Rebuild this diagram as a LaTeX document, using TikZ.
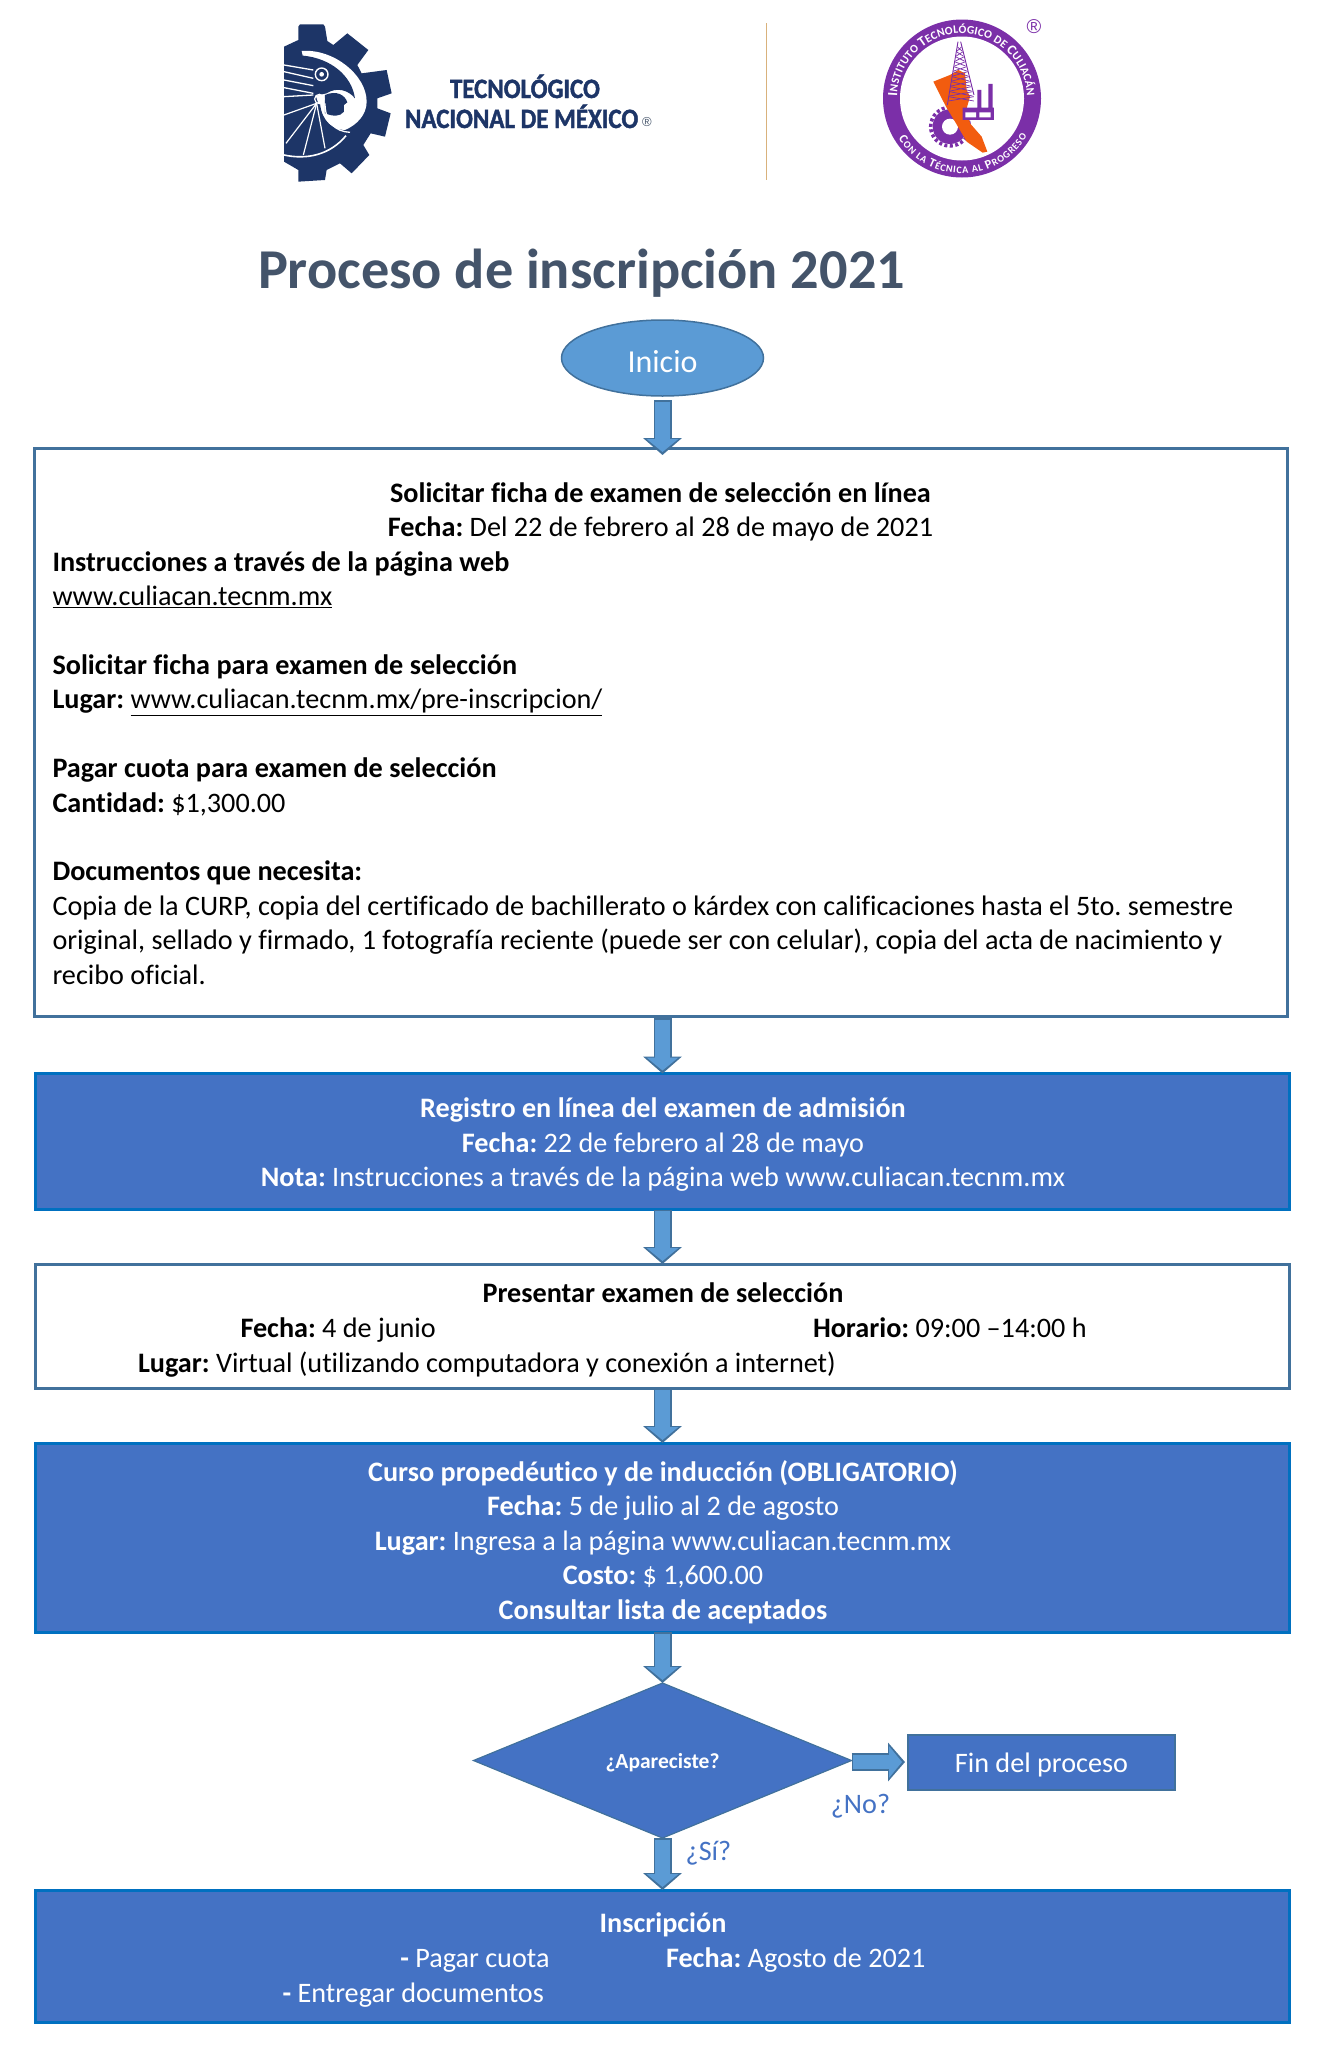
\documentclass[tikz,border=0pt]{standalone}
\usepackage{fontspec}
\setmainfont[Ligatures=CommonOff]{Carlito}
\newfontfamily\logofont[FakeStretch=.89, Ligatures=CommonOff, BoldFeatures={FakeBold=1.5}]{Carlito}
\newfontfamily\regfont{Liberation Sans}
\usetikzlibrary{shapes.geometric, arrows.meta, decorations.text}

\definecolor{boxblue}{HTML}{4472C4}
\definecolor{boxedge}{HTML}{0070C0}
\definecolor{softblue}{HTML}{5B9BD5}
\definecolor{softedge}{HTML}{41719C}
\definecolor{titlegray}{HTML}{44546A}
\definecolor{gearnavy}{HTML}{1D3567}
\definecolor{ringpurple}{HTML}{7B2FA8}
\definecolor{maporange}{HTML}{F25C0F}
\definecolor{divtan}{HTML}{D9B27C}

\newcommand{\bodyfont}{\fontsize{28.2}{34.4}\selectfont}
\newcommand{\ringbig}{\bfseries\fontsize{14}{14}\selectfont}
\newcommand{\ringsmall}{\bfseries\fontsize{11.5}{11.5}\selectfont}
\newcommand{\ringlow}{\bfseries\fontsize{12.5}{12.5}\selectfont}
\newcommand{\ringtiny}{\bfseries\fontsize{10}{10}\selectfont}
\newcommand{\flowarrow}[2]{
    \draw[arrowedge] #1 -- #2;
    \draw[arrowface] #1 -- #2;
}

\begin{document}
\frenchspacing
\begin{tikzpicture}[x=1pt, y=-1pt,
    every node/.style={font=\bodyfont, inner sep=0pt, outer sep=0pt},
    plainbox/.style={draw=softedge, line width=3pt, fill=white},
    filledbox/.style={draw=boxedge, line width=3pt, fill=boxblue},
    linetext/.style={anchor=base west},
    blocktext/.style={anchor=base, align=center},
    arrowedge/.style={draw=softedge, line width=18pt, -{Triangle[length=17pt, width=38pt]}},
    arrowface/.style={draw=softblue, line width=14.5pt, shorten <=1.5pt, shorten >=3pt, -{Triangle[length=13pt, width=31pt]}}]
\useasboundingbox (0,0) rectangle (1323,2048);

% logo tecnm
\begin{scope}[shift={(270,15)}, x=.3333pt, y=-.3333pt]
\fill[gearnavy] (42,95) -- (85,75) -- (85,35) -- (90,28) -- (160,28) -- (165,35) -- (172,78) -- (190,90)
    -- (232,55) -- (295,105) -- (262,150) -- (275,175) -- (350,165) -- (365,235) -- (322,250) -- (322,280)
    -- (362,295) -- (345,365) -- (302,355) -- (280,390) -- (298,420) -- (245,475) -- (210,445) -- (170,465)
    -- (165,495) -- (85,500) -- (85,465) -- (42,440) -- cycle;
\fill[white] (95,108) .. controls (190,100) and (290,180) .. (290,260) .. controls (290,300) and (260,330) .. (225,345)
    .. controls (190,345) and (160,320) .. (150,280) -- (100,130) -- cycle;
\fill[gearnavy] (42,115) -- (100,122) .. controls (180,130) and (245,180) .. (255,250)
    .. controls (235,225) and (200,215) .. (170,235) -- (42,262) -- cycle;
\fill[gearnavy] (165,240) .. controls (200,225) and (225,240) .. (232,262) -- (222,270) -- (222,290)
    .. controls (210,305) and (190,305) .. (165,295) -- cycle;
\fill[gearnavy] (42,255) -- (150,265) .. controls (155,320) and (190,345) .. (230,352) -- (190,400) -- (42,420) -- cycle;
\foreach \ya/\yb in {150/165, 170/190, 195/212, 218/235, 245/240}
    \draw[white, line width=1.3pt] (42,\ya) -- (130,\yb);
\foreach \xa/\ya in {42/300, 48/385, 100/420, 165/400}
    \draw[white, line width=1.2pt] (140,265) -- (\xa,\ya);
\draw[white, line width=1.3pt] (165,265) .. controls (165,320) and (195,350) .. (240,352);
\draw[white, line width=1.6pt] (42,420) .. controls (110,435) and (180,420) .. (228,362);
\draw[white, line width=1.4pt] (155,178) circle[radius=19];
\fill[white] (155,178) circle[radius=7];
\draw[white, line width=1.2pt] (148,252) circle[radius=14];
\fill[white] (148,252) circle[radius=5];
\end{scope}
\node[linetext, font=\logofont\bfseries\fontsize{28}{28}\selectfont, text=gearnavy] (tecno) at (450,98) {TECNOLÓGICO};
\node[linetext, font=\logofont\bfseries\fontsize{28}{28}\selectfont, text=gearnavy] (nacional) at (405,128) {NACIONAL DE MÉXICO};
\node[font=\regfont\fontsize{13}{13}\selectfont, text=titlegray] (regtecnm) at (647,122) {®};
\draw[divtan, line width=1.6pt] (766.5,23) -- (766.5,180);

% logo instituto
\fill[ringpurple] (962,98.5) circle[radius=79];
\fill[white] (962,98.5) circle[radius=62];
\path[decorate, decoration={text along path, text color=white, text align={fit to path},
    text={|\ringbig|I|\ringsmall|NSTITUTO |\ringbig|T|\ringsmall|ECNOLÓGICO DE |\ringbig|C|\ringsmall|ULIACÁN}}]
    (962,98.5) ++(178:65pt) arc[start angle=178, end angle=2, radius=65pt];
\path[decorate, decoration={text along path, text color=white, text align={fit to path},
    text={|\ringlow|C|\ringtiny|ON LA |\ringlow|T|\ringtiny|ÉCNICA AL |\ringlow|P|\ringtiny|ROGRESO}}]
    (962,98.5) ++(212:75pt) arc[start angle=212, end angle=330, radius=75pt];
\begin{scope}[shift={(870,10)}, x=.3333pt, y=-.3333pt]
\fill[ringpurple] (240,350) circle[radius=52];
\draw[ringpurple, line width=3.5pt, dash pattern=on 3pt off 2.5pt] (240,350) circle[radius=58];
\fill[white] (240,350) circle[radius=24];
\fill[maporange] (190,215) -- (240,195) -- (265,180) -- (285,190) -- (290,240) -- (300,260) -- (290,295) -- (300,340)
    -- (335,380) -- (352,425) -- (338,428) -- (290,395) -- (258,340) -- (228,290) -- (205,245) -- cycle;
\draw[ringpurple, line width=.9pt] (264,95) -- (232,285) (272,95) -- (312,255);
\foreach \yy in {110,125,...,260}
    \draw[ringpurple, line width=.7pt] ({264-(\yy-95)*.17},\yy) -- ({272+(\yy-95)*.24},{\yy+13})
        ({272+(\yy-95)*.24},\yy) -- ({264-(\yy-95)*.17},{\yy+13});
\fill[ringpurple] (322,240) rectangle (334,295) (355,222) rectangle (368,295) (278,293) rectangle (372,330);
\fill[white] (286,307) rectangle (318,322) (328,307) rectangle (362,322);
\end{scope}
\node[font=\regfont\fontsize{20}{20}\selectfont, text=ringpurple] (regitc) at (1034,27) {®};

% titulo
\node[linetext, font=\bfseries\fontsize{56.3}{64}\selectfont, text=titlegray] (titulo) at (258,288) {Proceso de inscripción 2021};

% inicio
\node[ellipse, draw=softedge, line width=1.5pt, fill=softblue, text=white, font=\fontsize{32}{36}\selectfont,
    text height=29pt, minimum width=202pt, minimum height=76pt] (inicio) at (662.5,358) {Inicio};

% ficha
\node[plainbox, minimum width=1253pt, minimum height=568pt] (ficha) at (660.5,732) {};
\node[blocktext] (fichatit) at (660.5,536.5) {\textbf{Solicitar ficha de examen de selección en línea}\\
    \textbf{Fecha:} Del 22 de febrero al 28 de mayo de 2021};
\node[anchor=north west, align=left] (fichatxt) at (52.5,551.5) {\textbf{Instrucciones a través de la página web}\\
    \underline{www.culiacan.tecnm.mx}\\[34.4pt]
    \textbf{Solicitar ficha para examen de selección}\\
    \textbf{Lugar:} \underline{www.culiacan.tecnm.mx/pre-inscripcion/}\\[34.4pt]
    \textbf{Pagar cuota para examen de selección}\\
    \textbf{Cantidad:} \$1,300.00\\[34.4pt]
    \textbf{Documentos que necesita:}\\
    Copia de la CURP, copia del certificado de bachillerato o kárdex con calificaciones hasta el 5to. semestre\\
    original, sellado y firmado, 1 fotografía reciente (puede ser con celular), copia del acta de nacimiento y\\
    recibo oficial.};

% registro
\node[filledbox, minimum width=1254pt, minimum height=136pt] (registro) at (662.5,1141.5) {};
\node[blocktext, text=white] (registrotxt) at (663,1186.5) {\textbf{Registro en línea del examen de admisión}\\
    \textbf{Fecha:} 22 de febrero al 28 de mayo\\
    \textbf{Nota:} Instrucciones a través de la página web www.culiacan.tecnm.mx};

% examen
\node[plainbox, minimum width=1254pt, minimum height=124pt] (examen) at (662.5,1326) {};
\node[anchor=base] (examentit) at (663,1302) {\textbf{Presentar examen de selección}};
\node[linetext] (examenfecha) at (240.5,1337) {\textbf{Fecha:} 4 de junio};
\node[linetext] (examenhora) at (813,1337) {\textbf{Horario:} 09:00 –14:00 h};
\node[linetext] (examenlugar) at (138,1372) {\textbf{Lugar:} Virtual (utilizando computadora y conexión a internet)};

% curso
\node[filledbox, minimum width=1254pt, minimum height=189pt] (curso) at (662.5,1537.5) {};
\node[blocktext, text=white] (cursotxt) at (663,1619) {\textbf{Curso propedéutico y de inducción (OBLIGATORIO)}\\
    \textbf{Fecha:} 5 de julio al 2 de agosto\\
    \textbf{Lugar:} Ingresa a la página www.culiacan.tecnm.mx\\
    \textbf{Costo:} \$ 1,600.00\\
    \textbf{Consultar lista de aceptados}};

% decision
\node[diamond, aspect=2.44, draw=softedge, line width=1.2pt, fill=boxblue, text=white, font=\bfseries\fontsize{21.5}{25}\selectfont,
    text height=20pt, minimum width=378pt, minimum height=155pt] (aparece) at (662.5,1760.5) {¿Apareciste?};
\node[draw=softedge, line width=1.2pt, fill=boxblue, text=white, text height=25pt, minimum width=267pt, minimum height=55pt] (fin) at (1041.5,1762.5) {Fin del proceso};
\node[text=boxblue] (no) at (860.5,1806) {¿No?};
\node[text=boxblue] (si) at (708.5,1853) {¿Sí?};

% inscripcion
\node[filledbox, minimum width=1254pt, minimum height=132pt] (inscripcion) at (662.5,1956) {};
\node[anchor=base, text=white] (inscrtit) at (663,1932) {\textbf{Inscripción}};
\node[anchor=base east, text=white] (inscrpago) at (549.5,1967) {\textbf{-} Pagar cuota};
\node[linetext, text=white] (inscrfecha) at (666,1967) {\textbf{Fecha:} Agosto de 2021};
\node[linetext, text=white] (inscrdocs) at (282.5,2002) {\textbf{-} Entregar documentos};

% flechas
\flowarrow{([yshift=-4pt]inicio.south)}{([yshift=-7pt]inicio.south |- ficha.north)}
\flowarrow{([yshift=-2pt]inicio.south |- ficha.south)}{(registro.north)}
\flowarrow{(registro.south)}{(examen.north)}
\flowarrow{(examen.south)}{(curso.north)}
\flowarrow{(curso.south)}{(aparece.north)}
\flowarrow{(aparece.south)}{(inscripcion.north)}
\flowarrow{([yshift=-1.5pt]aparece.east)}{([xshift=-3pt,yshift=-1.5pt]aparece.east -| fin.west)}
\end{tikzpicture}
\end{document}
